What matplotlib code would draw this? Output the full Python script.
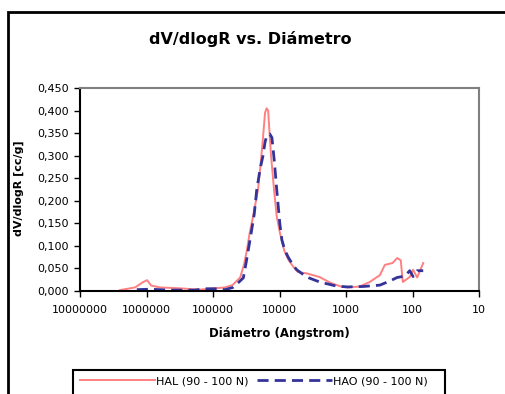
import matplotlib
matplotlib.use("Agg")
import matplotlib.pyplot as plt
from matplotlib.patches import Rectangle
from matplotlib.ticker import FuncFormatter, FixedLocator, NullLocator

plt.rcParams['font.family'] = ['DejaVu Sans']

# diameter (Angstrom) and dV/dlogR
hal_d = [2.5e6, 1.48e6, 1.12e6, 9.8e5, 8.5e5, 6.3e5, 3.2e5, 1.6e5, 1.1e5, 6.6e4,
         5.1e4, 3.9e4, 3.4e4, 3.1e4, 2.8e4, 2.5e4, 2.1e4, 1.9e4, 1.77e4, 1.65e4,
         1.56e4, 1.48e4, 1.44e4, 1.34e4, 1.2e4, 1.1e4, 9.9e3, 8.5e3, 7.4e3, 6.3e3,
         5.3e3, 3.9e3, 2.5e3, 1.7e3, 1.2e3, 950, 620, 440, 310, 260,
         200, 170, 150, 140, 110, 98, 85, 69]
hal_v = [0.002, 0.008, 0.020, 0.024, 0.012, 0.008, 0.006, 0.003, 0.005, 0.008,
         0.013, 0.030, 0.060, 0.090, 0.130, 0.165, 0.225, 0.290, 0.340, 0.395,
         0.405, 0.400, 0.370, 0.300, 0.220, 0.165, 0.130, 0.090, 0.070, 0.055,
         0.042, 0.039, 0.031, 0.018, 0.010, 0.008, 0.010, 0.020, 0.035, 0.058,
         0.062, 0.073, 0.068, 0.020, 0.031, 0.047, 0.030, 0.062]

hao_d = [1.4e6, 8.9e5, 4.5e5, 1.9e5, 1.3e5, 9.3e4, 6.6e4, 5e4, 4.2e4, 3.5e4,
         3.2e4, 2.8e4, 2.4e4, 2.2e4, 1.96e4, 1.77e4, 1.65e4, 1.55e4, 1.4e4, 1.3e4,
         1.2e4, 1.1e4, 9.9e3, 9.2e3, 8.3e3, 7.4e3, 6.3e3, 5.5e3, 3.9e3, 2.5e3,
         1.4e3, 950, 550, 310, 220, 170, 130, 110, 98, 85, 69]
hao_v = [0.003, 0.004, 0.002, 0.002, 0.005, 0.005, 0.003, 0.008, 0.018, 0.029,
         0.060, 0.110, 0.170, 0.224, 0.270, 0.300, 0.330, 0.345, 0.348, 0.340,
         0.290, 0.224, 0.150, 0.113, 0.090, 0.075, 0.058, 0.047, 0.031, 0.020,
         0.011, 0.009, 0.010, 0.013, 0.022, 0.030, 0.033, 0.045, 0.032, 0.045, 0.045]

x_ticks = [1e7, 1e6, 1e5, 1e4, 1e3, 1e2, 1e1]
y_ticks = [i * 0.05 for i in range(10)]

fig = plt.figure(figsize=(5.05, 3.94), dpi=100)
ax = fig.add_axes([80 / 505, 103 / 394, 399 / 505, 203 / 394])

ax.plot(hal_d, hal_v, color='#FF8080', lw=1.4, label='HAL (90 - 100 N)')
ax.plot(hao_d, hao_v, color='#333399', lw=2.0, dashes=(4, 2.2), label='HAO (90 - 100 N)')

ax.set_xscale('log')
ax.set_xlim(1e7, 10)
ax.set_ylim(0, 0.45)
ax.xaxis.set_major_locator(FixedLocator(x_ticks))
ax.xaxis.set_minor_locator(NullLocator())
ax.xaxis.set_major_formatter(FuncFormatter(lambda v, p: '%d' % round(v)))
ax.set_yticks(y_ticks)
ax.yaxis.set_major_formatter(FuncFormatter(lambda v, p: ('%.3f' % v).replace('.', ',')))
ax.tick_params(direction='out', length=4, width=1, labelsize=8, colors='black')
ax.tick_params(axis='x', pad=6)
ax.tick_params(axis='y', pad=4)

for s in ['left', 'bottom']:
    ax.spines[s].set_color('black')
    ax.spines[s].set_linewidth(1.5)
for s in ['top', 'right']:
    ax.spines[s].set_color('#808080')
    ax.spines[s].set_linewidth(1.5)

fig.text(279 / 505, 1 - 334 / 394, 'Diámetro (Angstrom)', fontsize=8.5, fontweight='bold',
         ha='center', va='center')
fig.text(19 / 505, 1 - 188 / 394, 'dV/dlogR [cc/g]', rotation=90, fontsize=8,
         fontweight='bold', ha='center', va='center')
fig.text(250 / 505, 1 - 39 / 394, 'dV/dlogR vs. Diámetro', fontsize=11.5,
         fontweight='bold', ha='center', va='center')

# outer chart border (runs off the right and bottom of the picture)
fig.patches.append(Rectangle((8 / 505, -0.2), 1.2, 0.2 + 1 - 12 / 394, transform=fig.transFigure,
                             fill=False, edgecolor='black', lw=2))
# legend box (bottom cut off)
fig.patches.append(Rectangle((73 / 505, -0.1), 372 / 505, 0.1 + 24 / 394, transform=fig.transFigure,
                             fill=False, edgecolor='black', lw=1.5))
fig.legend(loc='center left', bbox_to_anchor=(74 / 505, 1 - 381 / 394), ncol=2, frameon=False,
           fontsize=8, handlelength=6.8, handletextpad=0.1, columnspacing=0.7, borderpad=0)

fig.savefig('out.png', dpi=100)
